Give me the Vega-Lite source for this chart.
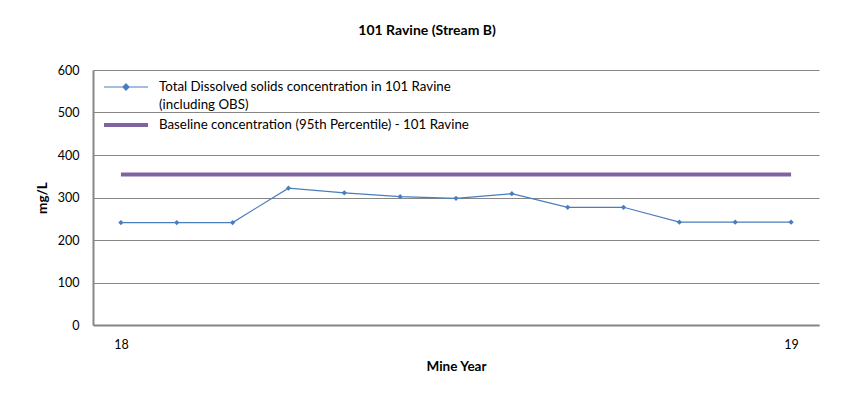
{
  "$schema": "https://vega.github.io/schema/vega-lite/v6.json",
  "width": 726,
  "height": 255,
  "autosize": {"type": "none"},
  "padding": {"left": 93, "top": 70, "right": 26, "bottom": 95},
  "background": "white",
  "title": {"text": "101 Ravine (Stream B)", "font": "Lato", "fontSize": 14, "fontWeight": "bold", "color": "black", "frame": "bounds", "anchor": "middle", "offset": 26},
  "config": {
    "view": {"stroke": null},
    "axis": {"labelFont": "Lato", "labelFontSize": 12.5, "labelColor": "black", "titleFont": "Lato", "titleFontSize": 13.5, "titleFontWeight": "bold", "titleColor": "black"}
  },
  "data": {"values": [
    {"m": 1, "series": "Total Dissolved solids concentration in 101 Ravine (including OBS)", "value": 241},
    {"m": 2, "series": "Total Dissolved solids concentration in 101 Ravine (including OBS)", "value": 241},
    {"m": 3, "series": "Total Dissolved solids concentration in 101 Ravine (including OBS)", "value": 241},
    {"m": 4, "series": "Total Dissolved solids concentration in 101 Ravine (including OBS)", "value": 322},
    {"m": 5, "series": "Total Dissolved solids concentration in 101 Ravine (including OBS)", "value": 311},
    {"m": 6, "series": "Total Dissolved solids concentration in 101 Ravine (including OBS)", "value": 302},
    {"m": 7, "series": "Total Dissolved solids concentration in 101 Ravine (including OBS)", "value": 298},
    {"m": 8, "series": "Total Dissolved solids concentration in 101 Ravine (including OBS)", "value": 309},
    {"m": 9, "series": "Total Dissolved solids concentration in 101 Ravine (including OBS)", "value": 277},
    {"m": 10, "series": "Total Dissolved solids concentration in 101 Ravine (including OBS)", "value": 277},
    {"m": 11, "series": "Total Dissolved solids concentration in 101 Ravine (including OBS)", "value": 242},
    {"m": 12, "series": "Total Dissolved solids concentration in 101 Ravine (including OBS)", "value": 242},
    {"m": 13, "series": "Total Dissolved solids concentration in 101 Ravine (including OBS)", "value": 242},
    {"m": 1, "series": "Baseline concentration (95th Percentile) - 101 Ravine", "value": 354},
    {"m": 13, "series": "Baseline concentration (95th Percentile) - 101 Ravine", "value": 354}
  ]},
  "encoding": {
    "x": {
      "field": "m", "type": "ordinal",
      "scale": {"type": "point", "padding": 0.5},
      "axis": {"title": "Mine Year", "labelAngle": 0, "labelExpr": "datum.value == 1 ? '18' : datum.value == 13 ? '19' : ''", "ticks": false, "labelPadding": 13, "titlePadding": 9, "domainColor": "#868686", "domainWidth": 2, "grid": false}
    },
    "y": {
      "field": "value", "type": "quantitative",
      "scale": {"domain": [0, 600]},
      "axis": {"title": "mg/L", "values": [0, 100, 200, 300, 400, 500, 600], "ticks": false, "labelPadding": 14, "titlePadding": 8, "domainColor": "#868686", "domainWidth": 2, "gridColor": "#868686", "gridWidth": 1}
    }
  },
  "layer": [
    {
      "mark": {"type": "line"},
      "encoding": {
        "color": {
          "field": "series", "type": "nominal",
          "scale": {"domain": ["Total Dissolved solids concentration in 101 Ravine (including OBS)", "Baseline concentration (95th Percentile) - 101 Ravine"], "range": ["#4A7EBB", "#8064A2"]},
          "legend": {
            "orient": "none", "legendX": 9, "legendY": -6, "title": null,
            "symbolType": "stroke", "symbolSize": 1936, "symbolStrokeWidth": 1.2,
            "labelFont": "Lato", "labelFontSize": 13.3, "labelColor": "black", "labelLimit": 600,
            "labelOffset": 9, "rowPadding": 0,
            "labelExpr": "datum.index == 0 ? ['Total Dissolved  solids  concentration in 101 Ravine', '(including OBS)'] : 'Baseline  concentration  (95th Percentile) - 101 Ravine'",
            "encode": {
              "symbols": {"update": {
                "shape": {"signal": "datum.index == 0 ? 'M-1,0H1M0,-0.14L0.14,0L0,0.14L-0.14,0Z' : 'M-1,-0.5H1'"},
                "strokeWidth": {"signal": "datum.index == 0 ? 1.2 : 4"},
                "fill": {"signal": "datum.index == 0 ? '#4A7EBB' : 'transparent'"},
                "fillOpacity": {"value": 1}
              }},
              "labels": {"update": {"lineHeight": {"value": 18}, "dy": {"signal": "datum.index == 0 ? 0 : -11"}}}
            }
          }
        },
        "strokeWidth": {
          "field": "series", "type": "nominal",
          "scale": {"domain": ["Total Dissolved solids concentration in 101 Ravine (including OBS)", "Baseline concentration (95th Percentile) - 101 Ravine"], "range": [1.2, 4]},
          "legend": null
        }
      }
    },
    {
      "transform": [{"filter": "datum.series != 'Baseline concentration (95th Percentile) - 101 Ravine'"}],
      "mark": {"type": "point", "shape": "diamond", "filled": true, "size": 28, "color": "#4A7EBB", "opacity": 1},
      "encoding": {}
    }
  ]
}
